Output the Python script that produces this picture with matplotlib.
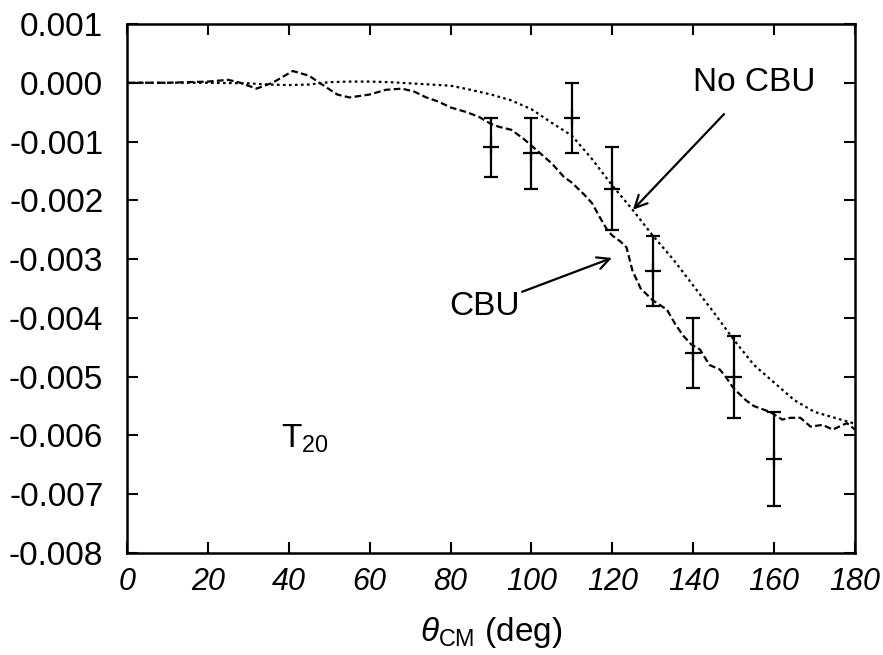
import matplotlib

matplotlib.use("Agg")
import matplotlib.pyplot as plt

plt.rcParams["font.family"] = ["Liberation Sans", "DejaVu Sans"]
plt.rcParams["mathtext.fontset"] = "custom"
plt.rcParams["mathtext.rm"] = "Liberation Sans"
plt.rcParams["mathtext.it"] = "Liberation Sans:italic"

# No CBU calculation (dotted)
no_cbu_theta = [0, 10, 20, 30, 35, 40, 45, 50, 55, 60, 65, 70, 75, 80, 85, 90,
                95, 100, 105, 110, 115, 120, 125, 130, 135, 140, 145, 150, 155,
                160, 165, 170, 175, 180]
no_cbu_val = [0.0, 0.0, 0.0, -0.00001, -0.00003, -0.00004, -0.00003, 0.00001,
              0.00002, 0.00002, 0.00001, -0.00001, -0.00003, -0.00005, -0.00012,
              -0.0002, -0.0003, -0.00045, -0.00068, -0.0009, -0.0013, -0.00175,
              -0.00216, -0.0026, -0.003, -0.00345, -0.0039, -0.00437, -0.0048,
              -0.0051, -0.0054, -0.0056, -0.0057, -0.0058]

# CBU calculation (dashed)
cbu_theta = [0, 10, 20, 25, 28, 32, 36, 41, 45, 48, 52, 55, 60, 64, 68, 71, 74,
             77, 80, 84, 87, 90, 92, 95, 98, 100.5, 103, 105, 108, 110, 113, 115,
             117, 118.7, 120, 122, 123.5, 125, 127, 130, 133.5, 135.5, 137.5,
             139.5, 141.7, 144, 146.6, 148, 150, 153, 155, 159, 162, 164, 166.5,
             169, 172, 174.5, 178, 180]
cbu_val = [0.0, 0.0, 0.00002, 0.00005, 0.0, -0.0001, 0.0, 0.0002, 0.00012,
           -0.00002, -0.0002, -0.00025, -0.0002, -0.00012, -0.0001, -0.00015,
           -0.00025, -0.00032, -0.00042, -0.0005, -0.00058, -0.0007, -0.00075,
           -0.0008, -0.00095, -0.0011, -0.00125, -0.00137, -0.0016, -0.0017,
           -0.0019, -0.00205, -0.0023, -0.0025, -0.0026, -0.0027, -0.0028,
           -0.0032, -0.0035, -0.0037, -0.00386, -0.0041, -0.0043, -0.00445,
           -0.00454, -0.0048, -0.00488, -0.005, -0.0052, -0.0054, -0.0055,
           -0.0056, -0.00573, -0.0057, -0.0057, -0.00585, -0.00582, -0.0059,
           -0.00579, -0.0059]

# measured points
data_theta = [90, 100, 110, 120, 130, 140, 150, 160]
data_val = [-0.0011, -0.0012, -0.0006, -0.0018, -0.0032, -0.0046, -0.0050, -0.0064]
data_err = [0.0005, 0.0006, 0.0006, 0.0007, 0.0006, 0.0006, 0.0007, 0.0008]

x_ticks = list(range(0, 181, 20))
y_ticks = [0.001, 0.0, -0.001, -0.002, -0.003, -0.004, -0.005, -0.006, -0.007, -0.008]

fig = plt.figure(figsize=(8.83, 6.55), dpi=100)
ax = fig.add_axes([0.1438, 0.1557, 0.8245, 0.8077])

ax.plot(no_cbu_theta, no_cbu_val, color="black", linewidth=1.6,
        linestyle=(0, (1.2, 1.5)))
ax.plot(cbu_theta, cbu_val, color="black", linewidth=1.6,
        linestyle=(0, (3, 1.5)))
ax.errorbar(data_theta, data_val, yerr=data_err, fmt="+", color="black",
            markersize=12, markeredgewidth=1.6, elinewidth=1.6, capsize=5,
            capthick=1.6)

ax.annotate("No CBU", xy=(125.1, -0.00216), xytext=(155, 0.0),
            ha="center", va="center", fontsize=24,
            arrowprops=dict(arrowstyle="->", color="black", lw=1.6,
                            shrinkA=13, shrinkB=0, mutation_scale=22))
ax.annotate("CBU", xy=(119.9, -0.00298), xytext=(88.3, -0.0038),
            ha="center", va="center", fontsize=24,
            arrowprops=dict(arrowstyle="->", color="black", lw=1.6,
                            shrinkA=0, shrinkB=0, mutation_scale=22))
ax.text(44, -0.00605, r"T$_{\mathregular{20}}$", ha="center", va="center",
        fontsize=24)

ax.set_xlim(0, 180)
ax.set_ylim(-0.008, 0.001)
ax.set_xticks(x_ticks)
ax.set_yticks(y_ticks)
ax.set_xticklabels([str(t) for t in x_ticks], fontsize=22, style="italic")
ax.set_yticklabels([f"{v:.3f}" for v in y_ticks], fontsize=24)
ax.tick_params(direction="in", length=8, width=1.5, top=True, right=True)
ax.tick_params(axis="x", pad=10)
ax.tick_params(axis="y", pad=17)
for s in ax.spines.values():
    s.set_linewidth(1.8)

ax.set_xlabel(r"$\theta_{\mathregular{CM}}$ (deg)", fontsize=24, labelpad=13)

fig.savefig("out.png", dpi=100)
